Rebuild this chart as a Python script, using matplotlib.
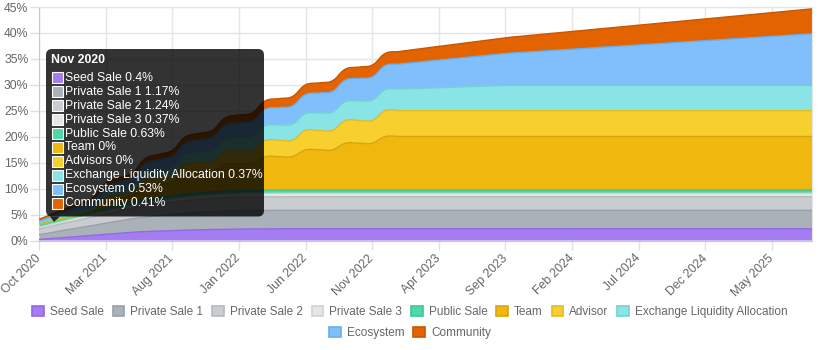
import numpy as np
import pandas as pd
import matplotlib
matplotlib.use('Agg')
import matplotlib.pyplot as plt
from matplotlib.patches import Patch, FancyBboxPatch, Polygon, Rectangle

plt.rcParams['font.family'] = ['Liberation Sans', 'DejaVu Sans']

############################################### data (percent of supply, monthly)
months = pd.date_range('2020-10-01', periods=59, freq='MS').strftime('%b %Y').tolist()

names = ['Seed Sale', 'Private Sale 1', 'Private Sale 2', 'Private Sale 3', 'Public Sale',
         'Team', 'Advisors', 'Exchange Liquidity Allocation', 'Ecosystem', 'Community']
legend_names = ['Seed Sale', 'Private Sale 1', 'Private Sale 2', 'Private Sale 3', 'Public Sale',
                'Team', 'Advisor', 'Exchange Liquidity Allocation', 'Ecosystem', 'Community']

seed = [0.2, 0.4, 0.6, 0.8, 1.0, 1.2, 1.4, 1.6, 1.72, 1.82, 1.92, 2.0, 2.07, 2.12, 2.16,
        2.2, 2.23, 2.25, 2.27, 2.27, 2.27, 2.27, 2.27, 2.27, 2.27, 2.27, 2.27, 2.27, 2.27, 2.27,
        2.27, 2.27, 2.27, 2.27, 2.27, 2.27, 2.27, 2.27, 2.27, 2.27, 2.27, 2.27, 2.27, 2.27, 2.27,
        2.27, 2.27, 2.27, 2.27, 2.27, 2.27, 2.27, 2.27, 2.27, 2.27, 2.27, 2.27, 2.27, 2.27]
private1 = [0.9, 1.17, 1.41, 1.65, 1.89, 2.13, 2.37, 2.6, 2.8, 2.98, 3.13, 3.26, 3.36, 3.44, 3.5,
            3.55, 3.55, 3.55, 3.55, 3.55, 3.55, 3.55, 3.55, 3.55, 3.55, 3.55, 3.55, 3.55, 3.55, 3.55,
            3.55, 3.55, 3.55, 3.55, 3.55, 3.55, 3.55, 3.55, 3.55, 3.55, 3.55, 3.55, 3.55, 3.55, 3.55,
            3.55, 3.55, 3.55, 3.55, 3.55, 3.55, 3.55, 3.55, 3.55, 3.55, 3.55, 3.55, 3.55, 3.55]
private2 = [1.1, 1.24, 1.38, 1.52, 1.66, 1.8, 1.93, 2.05, 2.16, 2.26, 2.35, 2.43, 2.5, 2.55, 2.59,
            2.62, 2.62, 2.62, 2.62, 2.62, 2.62, 2.62, 2.62, 2.62, 2.62, 2.62, 2.62, 2.62, 2.62, 2.62,
            2.62, 2.62, 2.62, 2.62, 2.62, 2.62, 2.62, 2.62, 2.62, 2.62, 2.62, 2.62, 2.62, 2.62, 2.62,
            2.62, 2.62, 2.62, 2.62, 2.62, 2.62, 2.62, 2.62, 2.62, 2.62, 2.62, 2.62, 2.62, 2.62]
private3 = [0.33, 0.37, 0.4, 0.43, 0.46, 0.49, 0.52, 0.55, 0.57, 0.59, 0.61, 0.63, 0.64, 0.65, 0.65,
            0.65, 0.65, 0.65, 0.65, 0.65, 0.65, 0.65, 0.65, 0.65, 0.65, 0.65, 0.65, 0.65, 0.65, 0.65,
            0.65, 0.65, 0.65, 0.65, 0.65, 0.65, 0.65, 0.65, 0.65, 0.65, 0.65, 0.65, 0.65, 0.65, 0.65,
            0.65, 0.65, 0.65, 0.65, 0.65, 0.65, 0.65, 0.65, 0.65, 0.65, 0.65, 0.65, 0.65, 0.65]
public = [0.63, 0.63, 0.63, 0.63, 0.63, 0.63, 0.63, 0.63, 0.63, 0.63, 0.63, 0.63, 0.63, 0.63, 0.63,
          0.63, 0.63, 0.63, 0.63, 0.63, 0.63, 0.63, 0.63, 0.63, 0.63, 0.63, 0.63, 0.63, 0.63, 0.63,
          0.63, 0.63, 0.63, 0.63, 0.63, 0.63, 0.63, 0.63, 0.63, 0.63, 0.63, 0.63, 0.63, 0.63, 0.63,
          0.63, 0.63, 0.63, 0.63, 0.63, 0.63, 0.63, 0.63, 0.63, 0.63, 0.63, 0.63, 0.63, 0.63]
team = [0, 0, 0, 0, 0, 1.29, 1.29, 1.29, 2.58, 2.58, 2.58, 3.87, 3.87, 3.87, 5.16,
        5.16, 5.16, 6.45, 6.45, 6.45, 7.74, 7.74, 7.74, 9.03, 9.03, 9.03, 10.32, 10.32, 10.32, 10.32,
        10.32, 10.32, 10.32, 10.32, 10.32, 10.32, 10.32, 10.32, 10.32, 10.32, 10.32, 10.32, 10.32, 10.32, 10.32,
        10.32, 10.32, 10.32, 10.32, 10.32, 10.32, 10.32, 10.32, 10.32, 10.32, 10.32, 10.32, 10.32, 10.32]
advisors = [0, 0, 0, 0, 0, 0.63, 0.63, 0.63, 1.25, 1.25, 1.25, 1.88, 1.88, 1.88, 2.5,
            2.5, 2.5, 3.13, 3.13, 3.13, 3.75, 3.75, 3.75, 4.38, 4.38, 4.38, 5.0, 5.0, 5.0, 5.0,
            5.0, 5.0, 5.0, 5.0, 5.0, 5.0, 5.0, 5.0, 5.0, 5.0, 5.0, 5.0, 5.0, 5.0, 5.0,
            5.0, 5.0, 5.0, 5.0, 5.0, 5.0, 5.0, 5.0, 5.0, 5.0, 5.0, 5.0, 5.0, 5.0]
liquidity = [0.22, 0.37, 0.53, 0.68, 0.84, 0.99, 1.15, 1.3, 1.46, 1.61, 1.77, 1.92, 2.08, 2.23, 2.39,
             2.54, 2.7, 2.85, 2.98, 3.12, 3.25, 3.38, 3.52, 3.65, 3.78, 3.92, 4.05, 4.14, 4.23, 4.32,
             4.41, 4.5, 4.59, 4.68, 4.77, 4.86, 4.86, 4.86, 4.86, 4.86, 4.86, 4.86, 4.86, 4.86, 4.86,
             4.86, 4.86, 4.86, 4.86, 4.86, 4.86, 4.86, 4.86, 4.86, 4.86, 4.86, 4.86, 4.86, 4.86]
ecosystem = [0.37, 0.53, 0.7, 0.86, 1.03, 1.19, 1.36, 1.52, 1.69, 1.85, 2.02, 2.18, 2.35, 2.51, 2.68,
             2.84, 3.01, 3.17, 3.34, 3.5, 3.67, 3.83, 4.0, 4.16, 4.33, 4.49, 4.66, 4.82, 4.99, 5.15,
             5.32, 5.48, 5.65, 5.81, 5.98, 6.14, 6.31, 6.47, 6.64, 6.8, 6.97, 7.13, 7.3, 7.46, 7.63,
             7.79, 7.96, 8.12, 8.29, 8.45, 8.62, 8.78, 8.95, 9.11, 9.28, 9.44, 9.61, 9.77, 9.94]
community = [0.33, 0.41, 0.49, 0.56, 0.64, 0.72, 0.8, 0.87, 0.95, 1.03, 1.1, 1.18, 1.26, 1.33, 1.41,
             1.49, 1.56, 1.64, 1.72, 1.8, 1.87, 1.95, 2.03, 2.1, 2.18, 2.26, 2.33, 2.41, 2.49, 2.57,
             2.64, 2.72, 2.8, 2.87, 2.95, 3.03, 3.1, 3.18, 3.26, 3.33, 3.41, 3.49, 3.57, 3.64, 3.72,
             3.8, 3.87, 3.95, 4.03, 4.1, 4.18, 4.26, 4.33, 4.41, 4.49, 4.57, 4.64, 4.72, 4.8]

series = [seed, private1, private2, private3, public, team, advisors, liquidity, ecosystem, community]
colors = ['#a47df3', '#abb1b9', '#c9cdd1', '#e6e6e6', '#4dd9a6',
          '#f0b70e', '#f7cf2e', '#89e4e6', '#80bffc', '#e26300']
edges = ['#9468e2', '#9aa0a8', '#b6babe', '#d2d2d2', '#3cc796',
         '#d9a50c', '#e3bb22', '#76d0d6', '#6aade8', '#c85700']
hover = 1  # Nov 2020


def spline(xs, ys, t=0.4, n=16):
    # bezier smoothing like chart.js lineTension
    m = len(xs)
    cpx_p, cpy_p, cpx_n, cpy_n = np.zeros(m), np.zeros(m), np.zeros(m), np.zeros(m)
    for i in range(m):
        a = max(i - 1, 0)
        b = min(i + 1, m - 1)
        d01 = np.hypot(xs[i] - xs[a], ys[i] - ys[a])
        d12 = np.hypot(xs[b] - xs[i], ys[b] - ys[i])
        s = d01 + d12
        fa = t * d01 / s if s > 0 else 0
        fb = t * d12 / s if s > 0 else 0
        cpx_p[i] = xs[i] - fa * (xs[b] - xs[a])
        cpy_p[i] = ys[i] - fa * (ys[b] - ys[a])
        cpx_n[i] = xs[i] + fb * (xs[b] - xs[a])
        cpy_n[i] = ys[i] + fb * (ys[b] - ys[a])
    u = np.linspace(0, 1, n, endpoint=False)[:, None]
    X, Y = [], []
    for i in range(m - 1):
        P = np.array([[xs[i], ys[i]], [cpx_n[i], cpy_n[i]], [cpx_p[i + 1], cpy_p[i + 1]], [xs[i + 1], ys[i + 1]]])
        c = (1 - u) ** 3 * P[0] + 3 * (1 - u) ** 2 * u * P[1] + 3 * (1 - u) * u ** 2 * P[2] + u ** 3 * P[3]
        X.append(c[:, 0]); Y.append(c[:, 1])
    X.append([xs[-1]]); Y.append([ys[-1]])
    return np.concatenate(X), np.concatenate(Y)


######################################################## figure
fig = plt.figure(figsize=(8.2, 3.5), dpi=100)
ax = fig.add_axes([39 / 820, 1 - 240.5 / 350, 773 / 820, 233.5 / 350])
x = np.arange(len(months))
ax.set_xlim(0, len(months) - 1)
ax.set_ylim(0, 45)

px = 773 / (len(months) - 1)
py = 233.5 / 45
tops = np.cumsum(np.array(series, dtype=float), axis=0)
prev_x, prev_y = x.astype(float), np.zeros(len(x))
lines = []
for i, top in enumerate(tops):
    cx, cy = spline(x * px, top * py)
    cx, cy = cx / px, cy / py
    ax.fill(np.concatenate([cx, prev_x[::-1]]), np.concatenate([cy, prev_y[::-1]]),
            color=colors[i], lw=0, zorder=2)
    lines.append((cx, cy))
    prev_x, prev_y = cx, cy
for i, (cx, cy) in enumerate(lines):
    ax.plot(cx, cy, color=edges[i], lw=1, zorder=3)

ax.set_yticks(np.arange(0, 46, 5))
ax.set_yticklabels([f'{v}%' for v in range(0, 46, 5)])
ax.set_xticks(x[::5])
ax.set_xticklabels(months[::5], rotation=45, ha='right', va='center', rotation_mode='anchor')
ax.tick_params(axis='both', colors='#e0e0e0', labelcolor='#666666', labelsize=8.8, length=6.5, width=1)
ax.tick_params(axis='x', pad=5)
ax.tick_params(axis='y', pad=1)
ax.grid(True, color='#e5e5e5', lw=1, zorder=0)
ax.set_axisbelow(True)
for s in ['top', 'right']:
    ax.spines[s].set_color('#e5e5e5')
for s in ['left', 'bottom']:
    ax.spines[s].set_color('#c8c8c8')

######################################################## legend (two rows)
handles = [Patch(facecolor=colors[i], edgecolor=edges[i], lw=1.2) for i in range(10)]
kw = dict(frameon=False, fontsize=8.5, handlelength=1.0, handleheight=1.0, handletextpad=0.5,
          columnspacing=0.75, labelcolor='#666666', borderpad=0, borderaxespad=0)
fig.legend(handles[:8], legend_names[:8], loc='center', bbox_to_anchor=(0.5, 1 - 312 / 350), ncol=8, **kw)
fig.legend(handles[8:], legend_names[8:], loc='center', bbox_to_anchor=(0.5, 1 - 333 / 350), ncol=2, **kw)

######################################################## tooltip
ov = fig.add_axes([0, 0, 1, 1], zorder=10)
ov.set_xlim(0, 820)
ov.set_ylim(350, 0)
ov.axis('off')
ov.add_patch(FancyBboxPatch((46, 49), 218, 167.5, boxstyle='round,pad=0,rounding_size=6',
                            facecolor='black', alpha=0.8, lw=0))
ov.add_patch(Polygon([[50, 216.5], [60, 216.5], [54, 222]], closed=True, facecolor='black', alpha=0.8, lw=0))
ov.text(51.5, 60, months[hover], color='white', fontsize=8.8, fontweight='bold', va='center', ha='left')
for i in range(10):
    yy = 77.7 + i * 13.96
    ov.add_patch(Rectangle((52, yy - 5.5), 11, 11, facecolor=colors[i], edgecolor='white', lw=0.8))
    ov.text(65.5, yy, f'{names[i]} {series[i][hover]:g}%', color='white', fontsize=8.8,
            va='center', ha='left')

fig.savefig('out.png', dpi=100)
